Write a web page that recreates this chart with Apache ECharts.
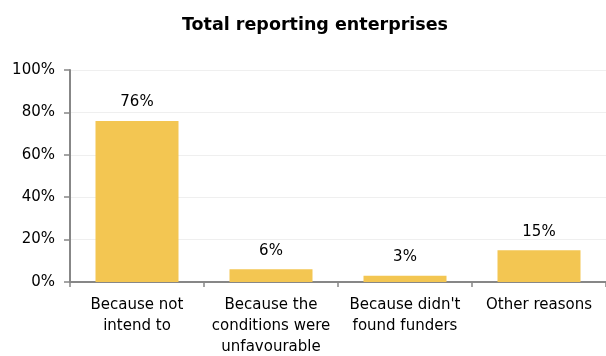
<!DOCTYPE html>
<html>
<head>
<meta charset="utf-8">
<script src="https://cdn.jsdelivr.net/npm/echarts@6/dist/echarts.min.js"></script>
<style>
  html, body { margin: 0; padding: 0; background: #fff; }
  #chart { width: 606px; height: 356px; }
</style>
</head>
<body>
<div id="chart"></div>
<script>
// Reasons given by enterprises, share of all reporting enterprises (%)
const categories = [
  'Because not\nintend to',
  'Because the\nconditions were\nunfavourable',
  "Because didn't\nfound funders",
  'Other reasons'
];
const shares = [76, 6, 3, 15];
const yTicks = [0, 20, 40, 60, 80, 100];

const FONT = '"DejaVu Sans", Verdana, sans-serif';
const chart = echarts.init(document.getElementById('chart'), null, { renderer: 'canvas' });

chart.setOption({
  animation: false,
  backgroundColor: '#ffffff',
  title: {
    text: 'Total reporting enterprises',
    left: 310,
    textAlign: 'center',
    top: 11,
    textStyle: { fontFamily: FONT, fontWeight: 'bold', fontSize: 17.5, color: '#000' }
  },
  grid: {
    left: 70, right: 0, top: 70, bottom: 74,
    containLabel: false,
    outerBoundsMode: 'none'
  },
  xAxis: {
    type: 'category',
    data: categories,
    axisLine: { lineStyle: { color: '#878787', width: 2 } },
    axisTick: { show: true, length: 5, lineStyle: { color: '#878787', width: 1.5 } },
    axisLabel: {
      interval: 0,
      margin: 13,
      fontFamily: FONT,
      fontSize: 15,
      lineHeight: 21,
      color: '#000'
    }
  },
  yAxis: {
    type: 'value',
    min: yTicks[0],
    max: yTicks[yTicks.length - 1],
    interval: yTicks[1] - yTicks[0],
    axisLine: { show: true, lineStyle: { color: '#878787', width: 2 } },
    axisTick: { show: true, length: 6, lineStyle: { color: '#878787', width: 1.5 } },
    splitLine: { show: true, lineStyle: { color: '#efefef', width: 1 } },
    axisLabel: {
      margin: 15,
      fontFamily: FONT,
      fontSize: 15,
      color: '#000',
      formatter: v => v + '%'
    }
  },
  series: [{
    type: 'bar',
    data: shares,
    barWidth: 83,
    itemStyle: { color: '#f3c652' },
    label: {
      show: true,
      position: 'top',
      distance: 11,
      fontFamily: FONT,
      fontSize: 15,
      color: '#000',
      formatter: p => p.value + '%'
    }
  }]
});
</script>
</body>
</html>
